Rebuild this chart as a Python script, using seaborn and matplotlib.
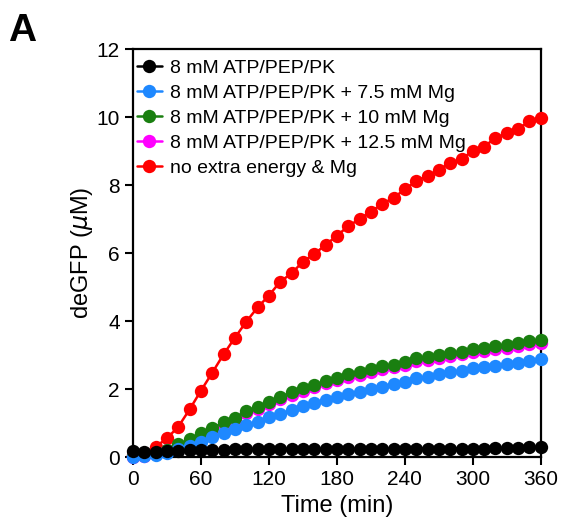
import numpy as np
import pandas as pd
import matplotlib
matplotlib.use("Agg")
import matplotlib.pyplot as plt
import seaborn as sns

time_min = list(range(0, 361, 10))

labels = [
    "8 mM ATP/PEP/PK",
    "8 mM ATP/PEP/PK + 7.5 mM Mg",
    "8 mM ATP/PEP/PK + 10 mM Mg",
    "8 mM ATP/PEP/PK + 12.5 mM Mg",
    "no extra energy & Mg",
]
colors = ["#000000", "#1E88FF", "#1A7F10", "#FF00FF", "#FF0000"]

atp_only = [0.18, 0.14, 0.15, 0.17, 0.19, 0.20, 0.21, 0.22, 0.22, 0.23,
            0.23, 0.23, 0.23, 0.24, 0.24, 0.24, 0.24, 0.24, 0.24, 0.24,
            0.24, 0.24, 0.24, 0.24, 0.24, 0.25, 0.25, 0.25, 0.25, 0.25,
            0.25, 0.25, 0.26, 0.26, 0.27, 0.28, 0.30]
mg_7_5 = [0.00, 0.02, 0.05, 0.12, 0.23, 0.32, 0.45, 0.58, 0.70, 0.81,
          0.94, 1.04, 1.17, 1.28, 1.38, 1.50, 1.60, 1.68, 1.77, 1.85,
          1.92, 1.99, 2.07, 2.14, 2.21, 2.31, 2.36, 2.44, 2.51, 2.54,
          2.61, 2.66, 2.69, 2.74, 2.77, 2.83, 2.88]
mg_10 = [0.03, 0.06, 0.12, 0.22, 0.37, 0.52, 0.70, 0.84, 1.02, 1.14,
         1.36, 1.48, 1.63, 1.77, 1.90, 2.02, 2.12, 2.24, 2.33, 2.44,
         2.50, 2.58, 2.67, 2.72, 2.80, 2.90, 2.93, 3.00, 3.05, 3.10,
         3.17, 3.20, 3.26, 3.29, 3.36, 3.42, 3.44]
mg_12_5 = [0.00, 0.04, 0.10, 0.20, 0.35, 0.49, 0.66, 0.80, 0.97, 1.09,
           1.30, 1.42, 1.57, 1.70, 1.83, 1.95, 2.05, 2.17, 2.26, 2.36,
           2.42, 2.50, 2.59, 2.64, 2.72, 2.82, 2.85, 2.92, 2.97, 3.02,
           3.09, 3.12, 3.18, 3.21, 3.28, 3.33, 3.36]
no_extra = [0.05, 0.12, 0.30, 0.55, 0.89, 1.40, 1.95, 2.48, 3.02, 3.51,
            3.98, 4.40, 4.75, 5.16, 5.40, 5.75, 5.97, 6.24, 6.51, 6.79,
            7.00, 7.22, 7.44, 7.63, 7.87, 8.12, 8.27, 8.44, 8.66, 8.76,
            9.01, 9.13, 9.39, 9.52, 9.64, 9.89, 9.98]

x_ticks = [0, 60, 120, 180, 240, 300, 360]
y_ticks = [0, 2, 4, 6, 8, 10, 12]

series = [atp_only, mg_7_5, mg_10, mg_12_5, no_extra]

sns.set_style("ticks")
plt.rcParams["font.family"] = ["Liberation Sans", "DejaVu Sans"]
plt.rcParams.update({
    "text.color": "black",
    "axes.labelcolor": "black",
    "xtick.color": "black",
    "ytick.color": "black",
    "axes.edgecolor": "black",
})

fig = plt.figure(figsize=(5.61, 5.25), dpi=100)
ax = fig.add_axes([0.237, 0.1295, 0.727, 0.777])

handles = {}
draw_order = [4, 3, 2, 1, 0]
for z, i in enumerate(draw_order):
    df = pd.DataFrame({"t": time_min, "v": series[i]})
    sns.lineplot(data=df, x="t", y="v", ax=ax, color=colors[i], marker="o",
                 markersize=9.6, markeredgewidth=0, linewidth=1.8,
                 clip_on=False, zorder=3 + z)
    handles[i] = ax.lines[-1]

ax.set_xlim(0, 360)
ax.set_ylim(0, 12)
ax.set_xticks(x_ticks)
ax.set_yticks(y_ticks)
ax.tick_params(axis="both", labelsize=15, width=1.5, length=6, direction="out",
               color="black", labelcolor="black")
for sp in ax.spines.values():
    sp.set_linewidth(1.6)
    sp.set_color("black")

ax.set_xlabel("Time (min)", fontsize=17, labelpad=4)
ax.set_ylabel("deGFP ($\\mu$M)", fontsize=17, labelpad=1)

leg = ax.legend([handles[i] for i in range(5)], labels, loc="upper left",
                frameon=False, fontsize=14, handlelength=1.3,
                handletextpad=0.4, borderaxespad=0.0, labelspacing=0.38,
                bbox_to_anchor=(-0.01, 0.995))

fig.text(0.015, 0.975, "A", fontsize=28, fontweight="bold", va="top", ha="left")

fig.savefig("out.png", dpi=100)
